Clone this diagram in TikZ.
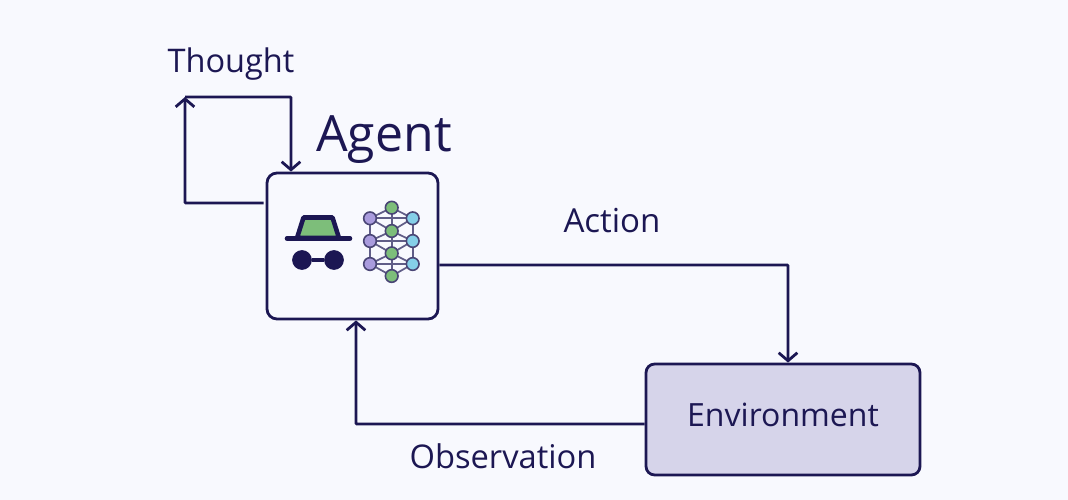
\documentclass[tikz,border=0pt]{standalone}
\usepackage{fontspec}
\setmainfont{Open Sans}
\usetikzlibrary{arrows.meta,calc}
\definecolor{ink}{HTML}{1C1753}
\definecolor{bgc}{HTML}{F8F9FE}
\definecolor{envc}{HTML}{D6D4EA}
\definecolor{grn}{HTML}{7DBE7A}
\definecolor{pur}{HTML}{A99BDD}
\definecolor{blu}{HTML}{85CFE8}
\tikzset{
  box/.style={draw=ink,line width=2.1pt,rounded corners=7.5pt,inner sep=0pt,anchor=center},
  lab/.style={text=ink,inner sep=0pt,anchor=base},
  conn/.style={draw=ink,line width=2.1pt,rounded corners=0.6pt},
  arr/.style={conn,-{Straight Barb[length=6pt,width=14pt]}},
  dot/.style={circle,draw=ink!80,line width=1.2pt,minimum size=9.5pt,inner sep=0pt},
  net/.style={draw=ink!70,line width=1.3pt},
}
\begin{document}
\begin{tikzpicture}[x=.75pt,y=-.75pt]
\path[use as bounding box,fill=bgc] (0,0) rectangle (1068,500);
\node[box,fill=bgc,minimum width=128.25pt,minimum height=109.5pt] (agent) at (352.5,246) {};
\node[box,fill=envc,minimum width=205.5pt,minimum height=83.25pt,rounded corners=6.5pt] (env) at (783,419.5) {};
\node[lab,font=\fontsize{24.4pt}{26pt}\selectfont] (thought) at (231,72) {Thought};
\node[lab,font=\fontsize{37.5pt}{40pt}\selectfont] (agentl) at (384,151) {Agent};
\node[lab,font=\fontsize{24.8pt}{26pt}\selectfont] (action) at (612,232) {Action};
\node[lab,font=\fontsize{24.5pt}{26pt}\selectfont] (obs) at (503,468) {Observation};
\node[lab,font=\fontsize{24pt}{26pt}\selectfont] (envl) at (783,426) {Environment};
% connectors
\coordinate (tl) at (agent.west |- 0,203);
\coordinate (c1) at (185,203);
\coordinate (c2) at (185,97);
\coordinate (c3) at (291,97);
\coordinate (tt) at (agent.north -| 291,0);
\draw[arr] ($(tl)+(-2,0)$) -- (c1) -- (c2);
\draw[arr] (c2) -- (c3) -- (tt);
\coordinate (ar) at (agent.east |- 0,265);
\coordinate (c4) at (788,265);
\coordinate (et) at (env.north -| 788,0);
\draw[arr] (ar) -- (c4) -- (et);
\coordinate (el) at (env.west |- 0,424);
\coordinate (c5) at (356,424);
\coordinate (ab) at (agent.south -| 356,0);
\draw[arr] (el) -- (c5) -- (ab);
% hat
\coordinate (h1) at (303.5,217.5);
\coordinate (h2) at (332.5,217.5);
\coordinate (h3) at (339,238);
\coordinate (h4) at (297,238);
\draw[ink,fill=grn,line width=3.4pt,line join=round] (h1) -- (h2) -- (h3) -- (h4) -- cycle;
\coordinate (b1) at (287,238.5);
\coordinate (b2) at (350,238.5);
\draw[ink,line width=3.4pt,line cap=round] (b1) -- (b2);
% glasses
\node[circle,fill=ink,minimum size=14.8pt,inner sep=0pt] (g1) at (302,260) {};
\node[circle,fill=ink,minimum size=14.8pt,inner sep=0pt] (g2) at (334,260) {};
\draw[ink,line width=3.7pt] (g1) -- (g2);
% network
\foreach \n/\x/\y in {l1/370/218.3,l2/370/241,l3/370/264,r1/412.7/218.3,r2/412.7/241,r3/412.7/264,m1/391.7/207.7,m2/391.7/231,m3/391.7/253.3,m4/391.7/276}{
  \coordinate (p\n) at (\x,\y);
}
\foreach \a/\b in {l1/r1,l2/r2,l3/r3,l1/l2,l2/l3,r1/r2,r2/r3,m1/m2,m2/m3,m3/m4,
  m1/l1,m1/r1,m2/l1,m2/r1,m2/l2,m2/r2,m3/l2,m3/r2,m3/l3,m3/r3,m4/l3,m4/r3}{
  \draw[net] (p\a) -- (p\b);
}
\foreach \n in {l1,l2,l3}{\node[dot,fill=pur] (d\n) at (p\n) {};}
\foreach \n in {r1,r2,r3}{\node[dot,fill=blu] (d\n) at (p\n) {};}
\foreach \n in {m1,m2,m3,m4}{\node[dot,fill=grn] (d\n) at (p\n) {};}
\end{tikzpicture}
\end{document}
